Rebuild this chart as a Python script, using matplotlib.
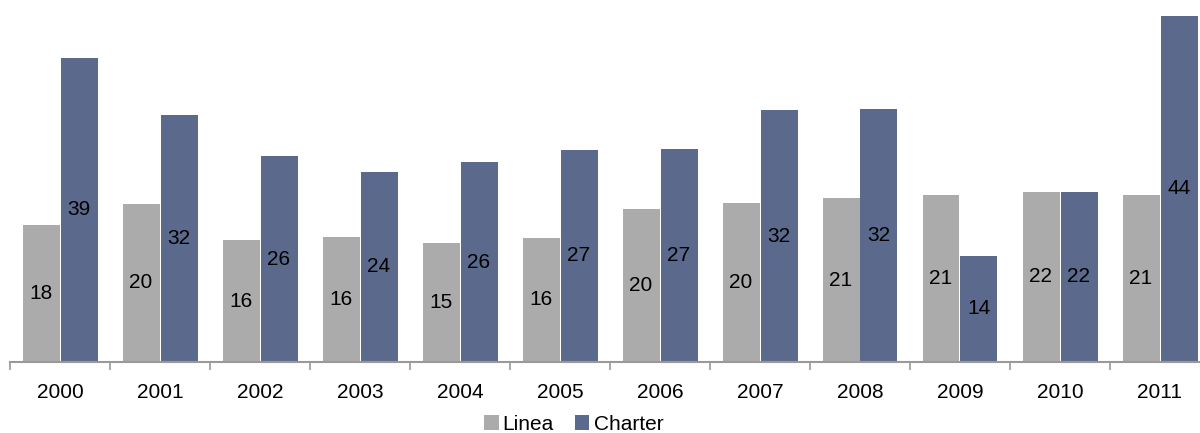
import matplotlib.pyplot as plt
import numpy as np

# Datos
years = ['2000', '2001', '2002', '2003', '2004', '2005',
         '2006', '2007', '2008', '2009', '2010', '2011']
linea = [17.6, 20.3, 15.6, 16.0, 15.3, 15.9, 19.6, 20.4, 21.0, 21.4, 21.8, 21.4]
charter = [39.0, 31.7, 26.4, 24.4, 25.6, 27.2, 27.3, 32.3, 32.4, 13.6, 21.8, 44.4]

plt.rcParams['font.family'] = ['Liberation Sans', 'DejaVu Sans']

fig = plt.figure(figsize=(12, 4.33), dpi=100)
ax = fig.add_axes([10 / 1200, 71 / 433, 1.0, 362 / 433])

x = np.arange(len(years))
w = 0.37
b1 = ax.bar(x - 0.19, linea, w, color='#ABABAB', label='Linea')
b2 = ax.bar(x + 0.19, charter, w, color='#5B6A8C', label='Charter')

# Etiquetas centradas dentro de las barras
for bars, vals in ((b1, linea), (b2, charter)):
    for rect, v in zip(bars, vals):
        ax.text(rect.get_x() + rect.get_width() / 2, v / 2, f'{round(v)}',
                ha='center', va='center', fontsize=15, color='black')

ax.set_xlim(-0.5, 11.5)
ax.set_ylim(0, 362 / 7.8)

for s in ('top', 'right', 'left'):
    ax.spines[s].set_visible(False)
ax.spines['bottom'].set_color('#999999')
ax.spines['bottom'].set_linewidth(1.5)
ax.set_yticks([])

ax.set_xticks(x)
ax.set_xticklabels(years, fontsize=15)
ax.tick_params(axis='x', which='major', length=0, pad=15)
ax.set_xticks(np.arange(-0.5, 12, 1), minor=True)
ax.tick_params(axis='x', which='minor', length=6, width=1.2, color='#999999')

fig.legend(loc='center', bbox_to_anchor=(0.478, 9 / 433), ncol=2, frameon=False,
           fontsize=15, handlelength=0.7, handleheight=0.7, handletextpad=0.2,
           columnspacing=1.0, borderpad=0)

fig.savefig('out.png', dpi=100)
